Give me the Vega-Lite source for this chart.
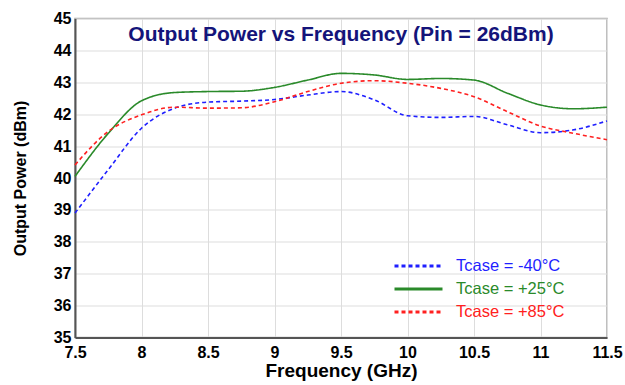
{
  "$schema": "https://vega.github.io/schema/vega-lite/v6.json",
  "width": 532,
  "height": 319,
  "autosize": {"type": "none"},
  "padding": {"left": 75, "top": 18.5, "right": 18, "bottom": 47.5},
  "background": "white",
  "title": {
    "text": "Output Power vs Frequency (Pin = 26dBm)",
    "font": "Liberation Sans",
    "fontSize": 21,
    "fontWeight": "bold",
    "color": "#14147a",
    "anchor": "middle",
    "baseline": "top",
    "offset": -34
  },
  "config": {
    "font": "Liberation Sans",
    "view": {"stroke": "#aaaaaa", "strokeWidth": 1.5},
    "axis": {
      "labelFont": "Liberation Sans",
      "labelFontSize": 16,
      "labelFontWeight": "bold",
      "labelColor": "#000000",
      "titleFont": "Liberation Sans",
      "titleFontWeight": "bold",
      "titleColor": "#000000",
      "gridColor": "#dddddd",
      "gridWidth": 1,
      "ticks": false,
      "domainColor": "#555555",
      "domainWidth": 2
    }
  },
  "data": {
    "values": [
      {"f": 7.5, "p": 38.9, "s": "Tcase = -40°C"},
      {"f": 7.75, "p": 40.26, "s": "Tcase = -40°C"},
      {"f": 8.0, "p": 41.56, "s": "Tcase = -40°C"},
      {"f": 8.25, "p": 42.19, "s": "Tcase = -40°C"},
      {"f": 8.5, "p": 42.38, "s": "Tcase = -40°C"},
      {"f": 8.75, "p": 42.41, "s": "Tcase = -40°C"},
      {"f": 9.0, "p": 42.46, "s": "Tcase = -40°C"},
      {"f": 9.25, "p": 42.6, "s": "Tcase = -40°C"},
      {"f": 9.5, "p": 42.71, "s": "Tcase = -40°C"},
      {"f": 9.75, "p": 42.45, "s": "Tcase = -40°C"},
      {"f": 10.0, "p": 41.95, "s": "Tcase = -40°C"},
      {"f": 10.25, "p": 41.9, "s": "Tcase = -40°C"},
      {"f": 10.5, "p": 41.93, "s": "Tcase = -40°C"},
      {"f": 10.75, "p": 41.67, "s": "Tcase = -40°C"},
      {"f": 11.0, "p": 41.42, "s": "Tcase = -40°C"},
      {"f": 11.25, "p": 41.51, "s": "Tcase = -40°C"},
      {"f": 11.5, "p": 41.79, "s": "Tcase = -40°C"},
      {"f": 7.5, "p": 40.05, "s": "Tcase = +25°C"},
      {"f": 7.75, "p": 41.4, "s": "Tcase = +25°C"},
      {"f": 8.0, "p": 42.42, "s": "Tcase = +25°C"},
      {"f": 8.25, "p": 42.68, "s": "Tcase = +25°C"},
      {"f": 8.5, "p": 42.71, "s": "Tcase = +25°C"},
      {"f": 8.75, "p": 42.72, "s": "Tcase = +25°C"},
      {"f": 9.0, "p": 42.84, "s": "Tcase = +25°C"},
      {"f": 9.25, "p": 43.07, "s": "Tcase = +25°C"},
      {"f": 9.5, "p": 43.28, "s": "Tcase = +25°C"},
      {"f": 9.75, "p": 43.23, "s": "Tcase = +25°C"},
      {"f": 10.0, "p": 43.09, "s": "Tcase = +25°C"},
      {"f": 10.25, "p": 43.12, "s": "Tcase = +25°C"},
      {"f": 10.5, "p": 43.07, "s": "Tcase = +25°C"},
      {"f": 10.75, "p": 42.66, "s": "Tcase = +25°C"},
      {"f": 11.0, "p": 42.29, "s": "Tcase = +25°C"},
      {"f": 11.25, "p": 42.17, "s": "Tcase = +25°C"},
      {"f": 11.5, "p": 42.22, "s": "Tcase = +25°C"},
      {"f": 7.5, "p": 40.41, "s": "Tcase = +85°C"},
      {"f": 7.75, "p": 41.46, "s": "Tcase = +85°C"},
      {"f": 8.0, "p": 41.98, "s": "Tcase = +85°C"},
      {"f": 8.25, "p": 42.22, "s": "Tcase = +85°C"},
      {"f": 8.5, "p": 42.19, "s": "Tcase = +85°C"},
      {"f": 8.75, "p": 42.2, "s": "Tcase = +85°C"},
      {"f": 9.0, "p": 42.39, "s": "Tcase = +85°C"},
      {"f": 9.25, "p": 42.71, "s": "Tcase = +85°C"},
      {"f": 9.5, "p": 42.97, "s": "Tcase = +85°C"},
      {"f": 9.75, "p": 43.05, "s": "Tcase = +85°C"},
      {"f": 10.0, "p": 42.97, "s": "Tcase = +85°C"},
      {"f": 10.25, "p": 42.81, "s": "Tcase = +85°C"},
      {"f": 10.5, "p": 42.55, "s": "Tcase = +85°C"},
      {"f": 10.75, "p": 42.08, "s": "Tcase = +85°C"},
      {"f": 11.0, "p": 41.63, "s": "Tcase = +85°C"},
      {"f": 11.25, "p": 41.4, "s": "Tcase = +85°C"},
      {"f": 11.5, "p": 41.2, "s": "Tcase = +85°C"}
    ]
  },
  "mark": {"type": "line", "interpolate": "monotone", "strokeWidth": 1.6},
  "encoding": {
    "x": {
      "field": "f",
      "type": "quantitative",
      "scale": {"domain": [7.5, 11.5], "nice": false, "zero": false},
      "axis": {
        "values": [7.5, 8, 8.5, 9, 9.5, 10, 10.5, 11, 11.5],
        "format": ".1~f",
        "title": "Frequency (GHz)",
        "titleFontSize": 19,
        "labelPadding": 7,
        "titlePadding": 1,
        "labelFlush": false
      }
    },
    "y": {
      "field": "p",
      "type": "quantitative",
      "scale": {"domain": [35, 45], "nice": false, "zero": false},
      "axis": {
        "values": [35, 36, 37, 38, 39, 40, 41, 42, 43, 44, 45],
        "title": "Output Power (dBm)",
        "titleFontSize": 16,
        "labelPadding": 4,
        "titlePadding": 25,
        "labelFlush": false
      }
    },
    "color": {
      "field": "s",
      "type": "nominal",
      "scale": {
        "domain": ["Tcase = -40°C", "Tcase = +25°C", "Tcase = +85°C"],
        "range": ["#1f1fff", "#2a8a2a", "#ff2020"]
      },
      "legend": {
        "title": null,
        "orient": "none",
        "legendX": 330,
        "legendY": 234,
        "symbolType": "M-2,0H2",
        "symbolSize": 576,
        "symbolStrokeWidth": 3,
        "symbolFillColor": "transparent",
        "labelFont": "Liberation Sans",
        "labelFontSize": 16.5,
        "labelOffset": 24,
        "rowPadding": 1,
        "encode": {
          "labels": {"update": {"fill": {"scale": "color", "field": "value"}}}
        }
      }
    },
    "strokeDash": {
      "field": "s",
      "type": "nominal",
      "scale": {
        "domain": ["Tcase = -40°C", "Tcase = +25°C", "Tcase = +85°C"],
        "range": [[4, 3], [1, 0], [4, 3]]
      },
      "legend": null
    }
  }
}
